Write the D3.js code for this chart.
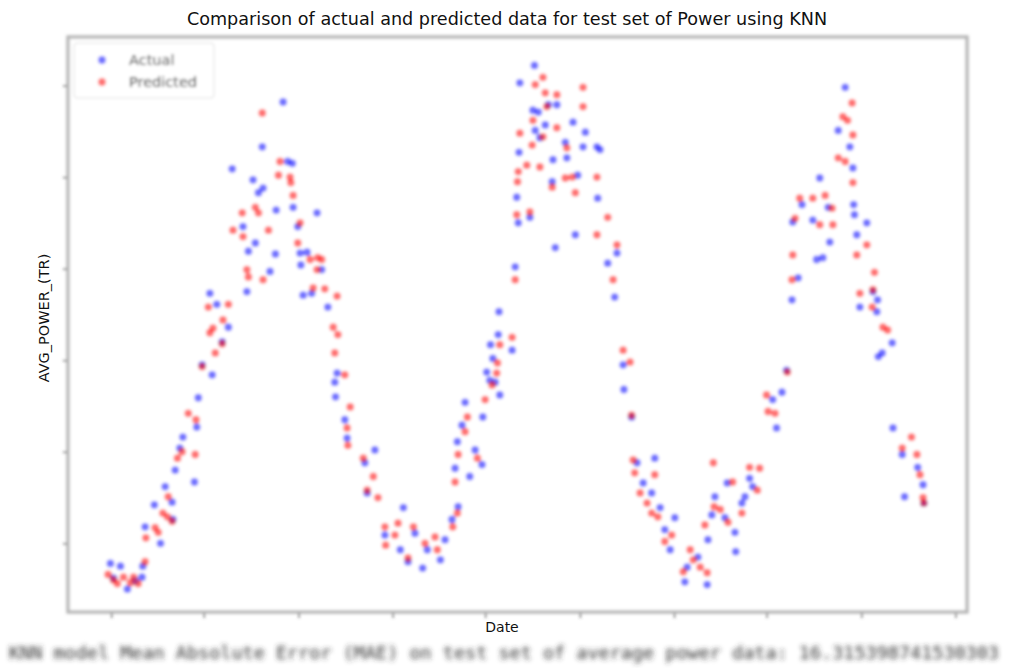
<!DOCTYPE html>
<html>
<head>
<meta charset="utf-8">
<script src="https://cdn.jsdelivr.net/npm/d3@7"></script>
<style>
  body { margin: 0; background: #fff; }
  svg { display: block; }
</style>
</head>
<body>
<div id="chart"></div>
<script>
/* test set dates, stored as day offsets from 1 Jan 2017 */
const startDate = Date.UTC(2017, 0, 1);

/* actual values (blue) */
const actualDays = [-1, 12, 3, 21, 31, 40, 41,
  44, 64, 56, 70, 79, 80, 83, 89, 93, 108, 111, 113,
  118, 131, 144, 152, 128, 137, 176, 206, 178, 187, 213, 171, 214, 191, 197, 184, 157, 196, 223, 229, 235, 236, 267, 242, 245, 246, 254, 273, 249, 260, 281, 293, 290, 291,
  303, 306, 342, 329, 332, 379,
  355, 375, 394, 410, 385, 427, 404, 433, 442, 450, 446, 472, 481, 465, 449, 455, 482, 459, 504, 498, 491, 487, 495, 520, 502, 492, 503,
  524, 528, 543, 526, 529, 550, 547, 554, 563, 556, 530, 549, 567, 578, 573, 572, 589, 591, 605, 602, 576, 599, 615, 612, 630, 634, 631, 656, 644, 653, 664, 665, 675,
  705, 682, 690, 701, 712, 731, 718, 725, 747, 761, 744, 773, 774, 783, 779, 796, 809, 810, 818, 799, 828, 832, 822,
  858, 870, 863, 876, 883, 891, 896, 884, 919, 930, 910, 932, 915, 923, 952, 943, 958, 962, 963, 964, 980, 967, 988, 994, 971, 993, 1013, 995, 1000, 1014, 1026, 1046, 1053, 1029, 1054];
const actualPower = [78, 75, 62, 50, 59, 63, 75,
  118, 100, 142, 162, 145, 126, 180, 204, 216, 167, 227, 259,
  295, 284, 320, 336, 373, 361, 375, 397, 419, 428, 416, 446, 464, 483, 488, 497, 509, 533, 582, 517, 515, 467, 461, 446, 417, 404, 418, 399, 371, 373, 358, 286, 276, 260,
  235, 215, 202, 188, 155, 139,
  109, 93, 111, 93, 80, 82, 73, 104, 126, 140, 182, 202, 186, 173, 211, 229, 238, 254, 262, 276, 278, 287, 302, 311, 328, 317, 353,
  402, 450, 456, 478, 527, 551, 573, 571, 557, 543, 603, 622, 579, 579, 519, 495, 538, 521, 502, 437, 423, 560, 549, 533, 533, 530, 477, 417, 406, 369, 295, 268, 238,
  193, 188, 166, 155, 139, 128, 115, 93, 74, 85, 58, 55, 104, 151, 131, 128, 112, 91, 144, 166, 171, 162, 151,
  257, 265, 226, 289, 366, 390, 470, 451, 499, 467, 453, 429, 410, 412, 598, 551, 533, 510, 470, 459, 450, 437, 375, 366, 358, 353, 319, 304, 308, 226, 197, 183, 164, 151, 144];

/* KNN predicted values (red) */
const predictedDays = [3, 8, 16, 25, 35, 44, -4, 29,
  45, 57, 61, 74, 73, 67, 86, 92, 109, 100, 110, 79,
  118, 135, 144, 128, 132, 145, 126, 152, 176, 178, 197, 158, 171, 170, 187, 191, 204, 196, 217, 219, 232, 233, 236, 245, 242, 258, 273, 267, 262, 277, 293, 288, 294, 290, 303, 268,
  310, 306, 307, 327, 340, 332, 346,
  372, 355, 368, 392, 356, 407, 385, 423, 420, 443, 449, 446, 450, 475, 459, 462, 485, 494, 500, 501, 520, 504,
  524, 526, 543, 527, 528, 539, 556, 530, 546, 547, 560, 578, 560, 550, 563, 578, 565, 572, 591, 589, 598, 602, 612, 612, 630, 644, 630, 656, 651, 664, 673, 675,
  677, 679, 705, 686, 695, 701, 709, 727, 718, 751, 755, 764, 742, 773, 770, 781, 782, 790, 800, 818, 806, 828, 841, 838,
  852, 850, 861, 877, 883, 884, 893, 887, 910, 926, 935, 919, 936, 961, 949, 955, 962, 943, 952, 962, 980, 967, 990, 988, 971, 987, 1001, 1007, 1038, 1026, 1045, 1049, 1053, 1054];
const predictedPower = [60, 56, 63, 57, 56, 80, 66, 63,
  106, 117, 112, 151, 129, 133, 193, 200, 197, 242, 235, 124,
  293, 308, 318, 330, 335, 344, 358, 361, 399, 391, 388, 442, 435, 461, 467, 461, 442, 570, 502, 517, 500, 494, 480, 450, 428, 410, 410, 399, 379, 378, 370, 336, 328, 308, 284, 412,
  249, 226, 207, 193, 173, 158, 150,
  122, 118, 109, 118, 98, 100, 84, 93, 107, 118, 133, 167, 197, 193, 222, 238, 257, 273, 286, 297, 325, 317,
  388, 459, 462, 495, 506, 513, 511, 548, 535, 562, 544, 554, 609, 601, 592, 590, 577, 489, 532, 499, 500, 483, 598, 577, 500, 456, 437, 426, 388, 311, 298, 240,
  191, 177, 175, 155, 144, 133, 129, 109, 102, 93, 82, 74, 69, 68, 120, 188, 140, 137, 123, 133, 167, 183, 182, 158,
  244, 262, 242, 287, 388, 415, 477, 455, 477, 480, 466, 448, 448, 581, 566, 562, 546, 521, 517, 494, 426, 415, 396, 377, 373, 358, 336, 333, 216, 204, 197, 175, 150, 144];

const yTicks = [100, 200, 300, 400, 500, 600];
const seriesNames = ['Actual', 'Predicted'];
const chartTitle = 'Comparison of actual and predicted data for test set of Power using KNN';
const maeText = 'KNN model Mean Absolute Error (MAE) on test set of average power data: 16.315398741530303';

const W = 1009;
const H = 668;
const margin = { top: 37, right: 42, bottom: 56, left: 68 };

const svg = d3.select('#chart')
  .append('svg')
  .attr('width', W)
  .attr('height', H);

/* blur filters: the plot area and the MAE line are soft in the picture */
const defs = svg.append('defs');
defs.append('filter').attr('id', 'soft')
  .attr('x', '-5%').attr('y', '-5%').attr('width', '110%').attr('height', '110%')
  .append('feGaussianBlur').attr('stdDeviation', 1.5);
defs.append('filter').attr('id', 'blurText')
  .attr('x', '-5%').attr('y', '-50%').attr('width', '110%').attr('height', '200%')
  .append('feGaussianBlur').attr('stdDeviation', 2.6);

const toDate = function (d) { return new Date(startDate + d * 86400000); };

const x = d3.scaleUtc()
  .domain([toDate(-56), toDate(1110)])
  .range([margin.left, W - margin.right]);
const y = d3.scaleLinear()
  .domain([25, 653])
  .range([H - margin.bottom, margin.top]);

const plot = svg.append('g').attr('filter', 'url(#soft)');

/* frame */
plot.append('rect')
  .attr('x', margin.left)
  .attr('y', margin.top)
  .attr('width', W - margin.left - margin.right)
  .attr('height', H - margin.top - margin.bottom)
  .attr('fill', '#fff')
  .attr('stroke', '#b8b8b8')
  .attr('stroke-width', 3.5);

/* axes, tick marks only (labels are not legible in the source) */
const xAxis = plot.append('g')
  .attr('transform', 'translate(0,' + (H - margin.bottom + 1) + ')')
  .call(d3.axisBottom(x).ticks(d3.utcMonth.every(4)).tickSize(5).tickFormat(''));
const yAxis = plot.append('g')
  .attr('transform', 'translate(' + (margin.left - 1) + ',0)')
  .call(d3.axisLeft(y).tickValues(yTicks).tickSize(4).tickFormat(''));
[xAxis, yAxis].forEach(function (a) {
  a.select('.domain').remove();
  a.selectAll('line').attr('stroke', '#555').attr('stroke-width', 1.2);
});

/* points */
const actual = actualDays.map(function (d, i) { return { date: toDate(d), value: actualPower[i] }; });
const predicted = predictedDays.map(function (d, i) { return { date: toDate(d), value: predictedPower[i] }; });

plot.append('g')
  .selectAll('circle')
  .data(actual)
  .enter()
  .append('circle')
  .attr('cx', function (d) { return x(d.date); })
  .attr('cy', function (d) { return y(d.value); })
  .attr('r', 3.9)
  .attr('fill', 'blue')
  .attr('fill-opacity', 0.55);

plot.append('g')
  .selectAll('circle')
  .data(predicted)
  .enter()
  .append('circle')
  .attr('cx', function (d) { return x(d.date); })
  .attr('cy', function (d) { return y(d.value); })
  .attr('r', 3.9)
  .attr('fill', 'red')
  .attr('fill-opacity', 0.55);

/* legend */
const legend = plot.append('g');
legend.append('rect')
  .attr('x', 74).attr('y', 43).attr('width', 140).attr('height', 55)
  .attr('rx', 3)
  .attr('fill', '#fff')
  .attr('fill-opacity', 0.85)
  .attr('stroke', '#e0e0e0');
const legendColor = d3.scaleOrdinal().domain(seriesNames).range(['blue', 'red']);
seriesNames.forEach(function (name, i) {
  legend.append('circle')
    .attr('cx', 102).attr('cy', 60 + i * 22).attr('r', 3.9)
    .attr('fill', legendColor(name)).attr('fill-opacity', 0.55);
  legend.append('text')
    .attr('x', 129).attr('y', 65 + i * 22)
    .attr('font-family', 'DejaVu Sans')
    .attr('font-size', 14.5)
    .attr('fill', '#222')
    .text(name);
});

/* titles */
svg.append('text')
  .attr('x', 507).attr('y', 25)
  .attr('text-anchor', 'middle')
  .attr('font-family', 'DejaVu Sans')
  .attr('font-size', 17.6)
  .attr('fill', '#111')
  .text(chartTitle);

svg.append('text')
  .attr('x', 502).attr('y', 632)
  .attr('text-anchor', 'middle')
  .attr('font-family', 'DejaVu Sans')
  .attr('font-size', 14)
  .attr('fill', '#111')
  .text('Date');

svg.append('text')
  .attr('transform', 'translate(49,318) rotate(-90)')
  .attr('text-anchor', 'middle')
  .attr('font-family', 'DejaVu Sans')
  .attr('font-size', 14.5)
  .attr('fill', '#111')
  .text('AVG_POWER_(TR)');

/* MAE output line under the chart, fitted inside the page width */
svg.append('text')
  .attr('x', 9).attr('y', 659)
  .attr('font-family', 'DejaVu Sans Mono')
  .attr('font-size', 18.4)
  .attr('textLength', 990)
  .attr('lengthAdjust', 'spacingAndGlyphs')
  .attr('fill', '#333')
  .attr('filter', 'url(#blurText)')
  .text(maeText);
</script>
</body>
</html>
